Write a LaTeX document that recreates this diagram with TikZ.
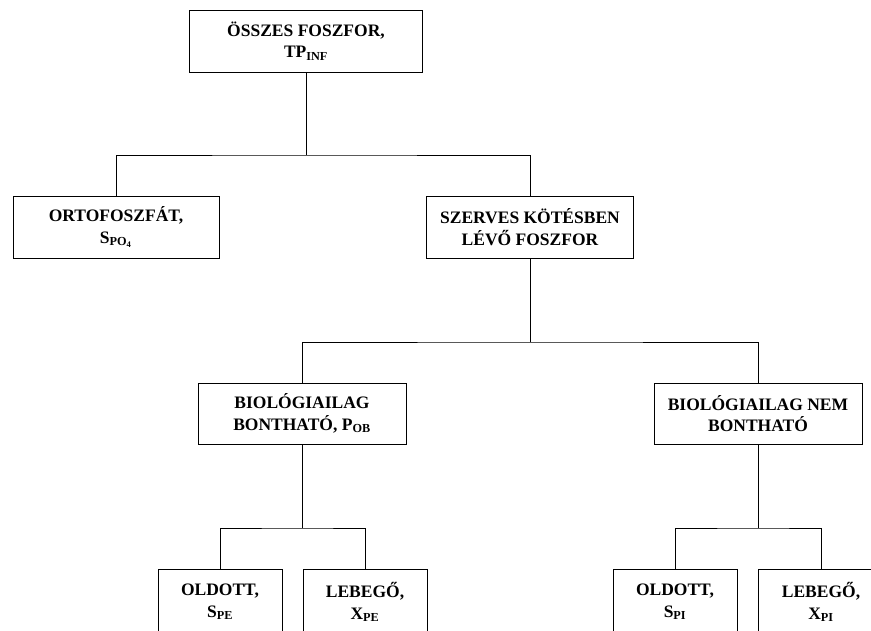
\documentclass[tikz,border=0pt]{standalone}
\usepackage{fontspec}
\setmainfont{Liberation Serif}
\usetikzlibrary{positioning}

\tikzset{
  box/.style={draw, line width=0.8pt, align=center, inner sep=2pt,
    minimum height=62pt, font=\fontsize{17.5}{21.5}\selectfont\bfseries},
  link/.style={line width=0.8pt}
}

\begin{document}
\begin{tikzpicture}[x=1pt, y=-1pt]
  \useasboundingbox (0,0) rectangle (871,630);
  \clip (0,0) rectangle (871,630);
  % level 0
  \node[box, minimum width=233pt] (total) at (306,41) {ÖSSZES FOSZFOR,\\TP\textsubscript{INF}};
  % level 1
  \node[box, minimum width=206pt] (orto) at (116,227) {ORTOFOSZFÁT,\\S\textsubscript{PO\textsubscript{4}}};
  \node[box, minimum width=207pt] (szerves) at (530,227) {SZERVES KÖTÉSBEN\\LÉVŐ FOSZFOR};
  % level 2
  \node[box, minimum width=208pt, minimum height=61pt] (bio) at (302,413.5) {BIOLÓGIAILAG\\BONTHATÓ, P\textsubscript{OB}};
  \node[box, minimum width=208pt, minimum height=61pt] (nembio) at (758,413.5) {BIOLÓGIAILAG NEM\\BONTHATÓ};
  % level 3
  \node[box, minimum width=124pt, minimum height=66pt] (oldpe) at (220,602) {OLDOTT,\\S\textsubscript{PE}};
  \node[box, minimum width=124pt, minimum height=66pt] (lebpe) at (365,602) {LEBEGŐ,\\X\textsubscript{PE}};
  \node[box, minimum width=124pt, minimum height=66pt] (oldpi) at (675,602) {OLDOTT,\\S\textsubscript{PI}};
  \node[box, minimum width=126pt, minimum height=66pt] (lebpi) at (821,602) {LEBEGŐ,\\X\textsubscript{PI}};
  % junctions
  \coordinate (j1) at (total.south |- 0,155);
  \coordinate (j2) at (szerves.south |- 0,342);
  \coordinate (j3) at (bio.south |- 0,528);
  \coordinate (j4) at (nembio.south |- 0,528);
  % connectors
  \draw[link] (total.south) -- (j1);
  \draw[link] (orto.north) |- (j1) -| (szerves.north);
  \draw[link] (szerves.south) -- (j2);
  \draw[link] (bio.north) |- (j2) -| (nembio.north);
  \draw[link] (bio.south) -- (j3);
  \draw[link] (oldpe.north) |- (j3) -| (lebpe.north);
  \draw[link] (nembio.south) -- (j4);
  \draw[link] (oldpi.north) |- (j4) -| (lebpi.north);
\end{tikzpicture}
\end{document}
